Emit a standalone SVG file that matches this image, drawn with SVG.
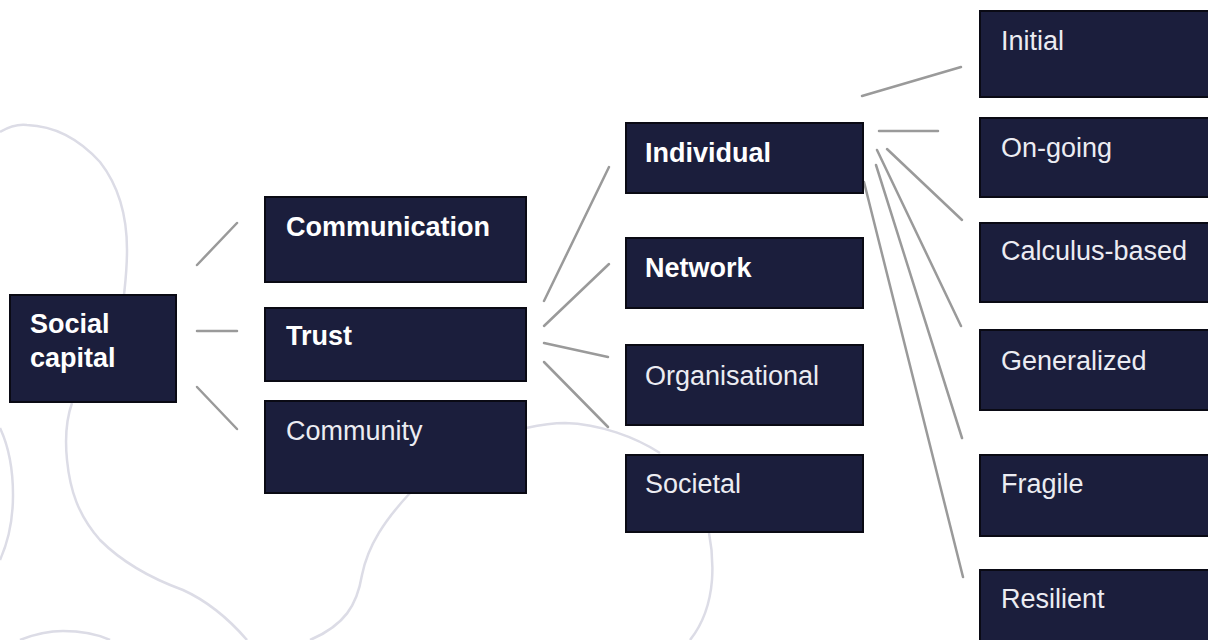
<svg xmlns="http://www.w3.org/2000/svg" width="1208" height="640" viewBox="0 0 1208 640">
  <style>
    .bg { fill: none; stroke: #dcdce6; stroke-width: 2.5; }
    .box { fill: #1b1e3c; stroke: #0a0a14; stroke-width: 2; }
    .t { font-family: "Liberation Sans", Arial, sans-serif; font-size: 27px; }
    .b { font-weight: bold; fill: #ffffff; }
    .r { font-weight: normal; fill: #ececf2; }
    .con line { stroke: #9a9a9a; stroke-width: 2.5; stroke-linecap: round; }
  </style>
  <rect x="0" y="0" width="1208" height="640" fill="#ffffff"/>
  <g id="background">
    <path class="bg" d="M0,132 C10,126 18,124 27,125 C55,126 80,140 100,162 C118,185 127,215 127,250 C127,270 125,285 124,295"/>
    <path class="bg" d="M72,403 C66,420 65,440 67,460 C70,490 78,515 100,540 C120,560 150,578 183,590 C205,600 228,618 247,640"/>
    <path class="bg" d="M0,428 C8,445 13,470 13,495 C13,520 9,540 0,560"/>
    <path class="bg" d="M20,640 C35,634 50,631 63,631 C80,631 97,634 110,640"/>
    <path class="bg" d="M410,493 C385,520 368,545 362,575 C357,605 345,625 310,640"/>
    <path class="bg" d="M526,428 C540,425 552,423 565,423 C600,424 635,437 660,453"/>
    <path class="bg" d="M709,533 C712,548 713,565 712,580 C710,605 702,625 690,640"/>
  </g>
  <g class="con" id="connectors">
    <line x1="197" y1="265" x2="237" y2="223"/>
    <line x1="197" y1="331" x2="237" y2="331"/>
    <line x1="197" y1="387" x2="237" y2="429"/>
    <line x1="544" y1="301" x2="609" y2="167"/>
    <line x1="544" y1="326" x2="609" y2="264"/>
    <line x1="544" y1="343" x2="608" y2="357"/>
    <line x1="544" y1="362" x2="608" y2="427"/>
    <line x1="862" y1="96" x2="961" y2="67"/>
    <line x1="879" y1="131" x2="938" y2="131"/>
    <line x1="887" y1="149" x2="962" y2="220"/>
    <line x1="877" y1="150" x2="961" y2="326"/>
    <line x1="876" y1="165" x2="962" y2="438"/>
    <line x1="864" y1="182" x2="963" y2="577"/>
  </g>
  <g id="n-social-capital">
    <rect class="box" x="10" y="295" width="166" height="107"/>
    <text class="t b" x="30" y="333">Social</text>
    <text class="t b" x="30" y="367">capital</text>
  </g>
  <g id="n-communication">
    <rect class="box" x="265" y="197" width="261" height="85"/>
    <text class="t b" x="286" y="236">Communication</text>
  </g>
  <g id="n-trust">
    <rect class="box" x="265" y="308" width="261" height="73"/>
    <text class="t b" x="286" y="345">Trust</text>
  </g>
  <g id="n-community">
    <rect class="box" x="265" y="401" width="261" height="92"/>
    <text class="t r" x="286" y="440">Community</text>
  </g>
  <g id="n-individual">
    <rect class="box" x="626" y="123" width="237" height="70"/>
    <text class="t b" x="645" y="162">Individual</text>
  </g>
  <g id="n-network">
    <rect class="box" x="626" y="238" width="237" height="70"/>
    <text class="t b" x="645" y="277">Network</text>
  </g>
  <g id="n-organisational">
    <rect class="box" x="626" y="345" width="237" height="80"/>
    <text class="t r" x="645" y="385">Organisational</text>
  </g>
  <g id="n-societal">
    <rect class="box" x="626" y="455" width="237" height="77"/>
    <text class="t r" x="645" y="493">Societal</text>
  </g>
  <g id="n-initial">
    <rect class="box" x="980" y="11" width="240" height="86"/>
    <text class="t r" x="1001" y="50">Initial</text>
  </g>
  <g id="n-on-going">
    <rect class="box" x="980" y="118" width="240" height="79"/>
    <text class="t r" x="1001" y="157">On-going</text>
  </g>
  <g id="n-calculus-based">
    <rect class="box" x="980" y="223" width="240" height="79"/>
    <text class="t r" x="1001" y="260">Calculus-based</text>
  </g>
  <g id="n-generalized">
    <rect class="box" x="980" y="330" width="240" height="80"/>
    <text class="t r" x="1001" y="370">Generalized</text>
  </g>
  <g id="n-fragile">
    <rect class="box" x="980" y="455" width="240" height="81"/>
    <text class="t r" x="1001" y="493">Fragile</text>
  </g>
  <g id="n-resilient">
    <rect class="box" x="980" y="570" width="240" height="90"/>
    <text class="t r" x="1001" y="608">Resilient</text>
  </g>
</svg>
